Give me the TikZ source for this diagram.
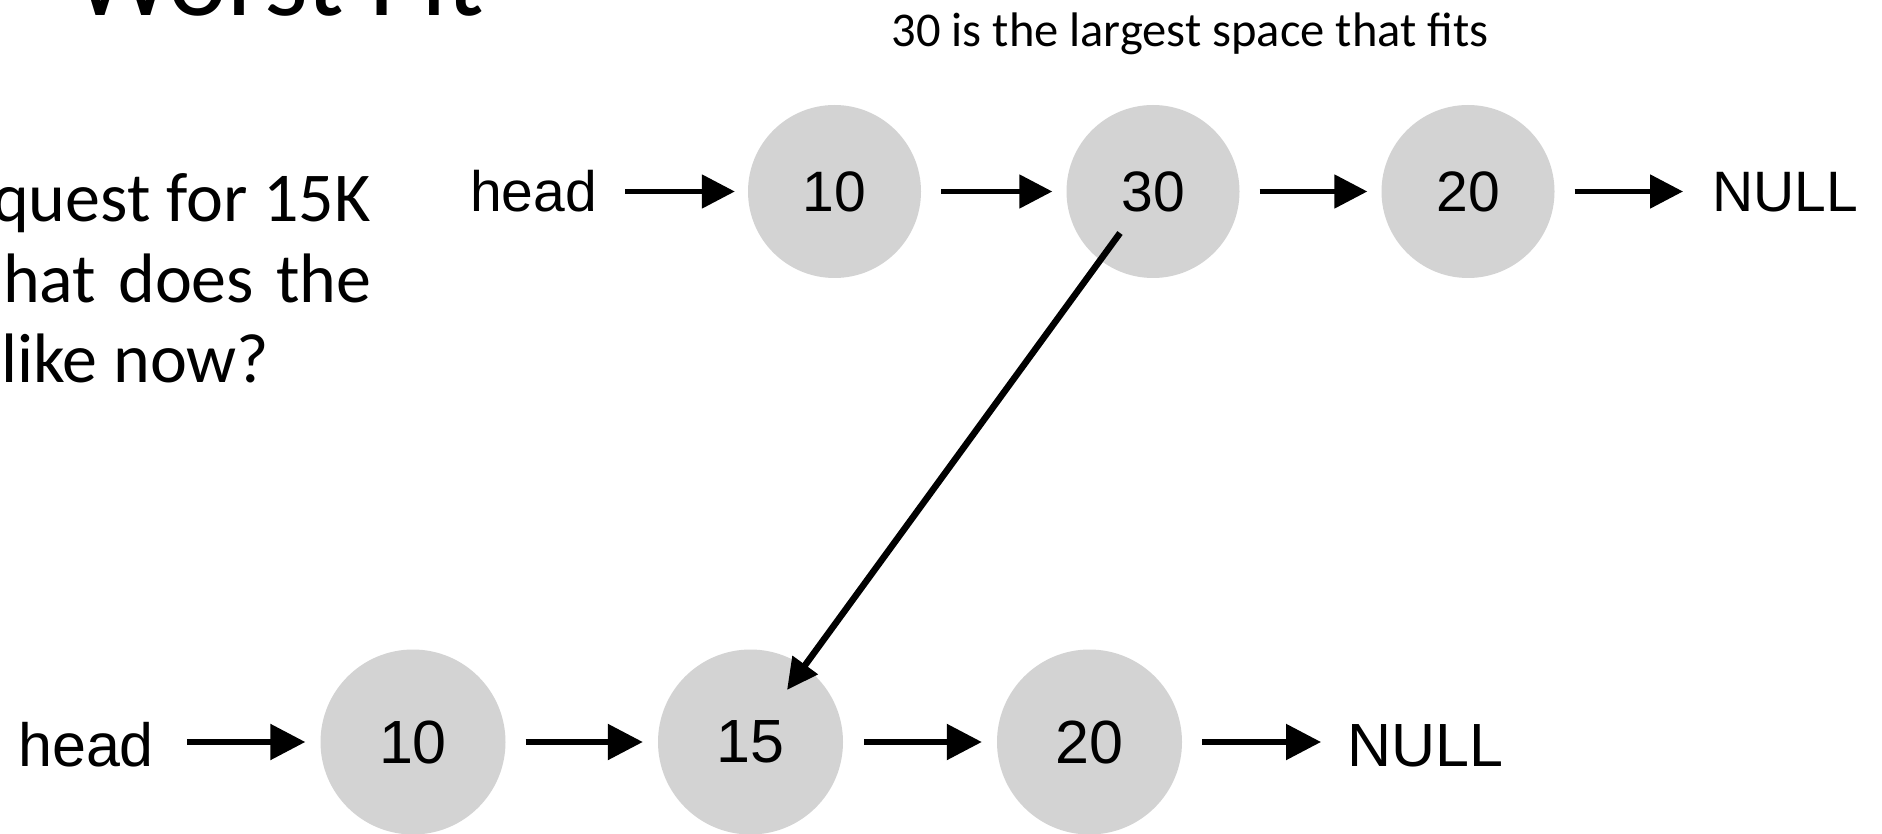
\documentclass[tikz,border=0pt]{standalone}
\usepackage{fontspec}
\setmainfont{Carlito}
\newfontfamily\diagfont{Liberation Sans}
\usetikzlibrary{arrows.meta,calc}
\definecolor{nodegray}{RGB}{211,211,211}
\newcommand\widewordspace{\spaceskip=22pt\relax}
\begin{document}
\begin{tikzpicture}[x=1pt,y=-1pt,
  cell/.style={circle,fill=nodegray,inner sep=0pt,text=black},
  topcell/.style={cell,minimum size=173pt,font=\diagfont\fontsize{57}{57}\selectfont},
  botcell/.style={cell,minimum size=185pt,font=\diagfont\fontsize{61}{61}\selectfont},
  toplabel/.style={inner sep=0pt,anchor=base west,font=\diagfont\fontsize{57}{57}\selectfont},
  botlabel/.style={inner sep=0pt,anchor=base west,font=\diagfont\fontsize{61}{61}\selectfont},
  toplink/.style={line width=5.2pt,-{Triangle[length=33pt,width=33pt]}},
  botlink/.style={line width=5.5pt,-{Triangle[length=35pt,width=35pt]}},
  splitlink/.style={line width=6.5pt,-{Triangle[length=31pt,width=30pt]}},
  slidetext/.style={inner sep=0pt,anchor=base west,font=\fontsize{70}{80}\selectfont},
]
\useasboundingbox (0,0) rectangle (1882,834);
\clip (0,0) rectangle (1882,834);

% slide title and body text
\node[inner sep=0pt,anchor=base west,font=\fontsize{112}{112}\selectfont] (title) at (73,16) {Worst Fit};
\node[slidetext] (line1) at (-8,222) {quest for 15K};
\node[slidetext] (line2) at (3,302) {\widewordspace hat does the};
\node[slidetext] (line3) at (1,382) {like now?};

% caption above the list
\node[inner sep=0pt,anchor=base,font=\fontsize{48.5}{48.5}\selectfont] (caption) at (1190,47) {30 is the largest space that fits};

% list before the allocation
\node[toplabel] (thead) at (470,212) {head};
\node[topcell] (t1) at (834.5,191.5) {10};
\node[topcell] (t2) at (1153,191.5) {30};
\node[topcell] (t3) at (1468,191.5) {20};
\node[toplabel] (tnull) at (1712,212) {NULL};

\draw[toplink,shorten <=28pt,shorten >=13pt] (thead.east |- t1.west) -- (t1.west);
\draw[toplink,shorten <=20pt,shorten >=14pt] (t1.east) -- (t2.west);
\draw[toplink,shorten <=20pt,shorten >=14pt] (t2.east) -- (t3.west);
\draw[toplink,shorten <=20pt,shorten >=29pt] (t3.east) -- (tnull.west |- t3.east);

% list after the allocation
\node[botlabel] (bhead) at (18,766) {head};
\node[botcell] (b1) at (413,742) {10};
\node[botcell] (b2) at (750.5,742) {15};
\node[botcell] (b3) at (1089.5,742) {20};
\node[botlabel] (bnull) at (1347,766) {NULL};

\draw[botlink,shorten <=33pt,shorten >=15pt] (bhead.east |- b1.west) -- (b1.west);
\draw[botlink,shorten <=20pt,shorten >=15pt] (b1.east) -- (b2.west);
\draw[botlink,shorten <=21pt,shorten >=15pt] (b2.east) -- (b3.west);
\draw[botlink,shorten <=20pt,shorten >=26pt] (b3.east) -- (bnull.west |- b3.east);

% the chosen block becomes the 15K entry
\draw[splitlink] ($(t2.center)+(-33,41.5)$) -- ($(b2.center)+(36.5,-52)$);
\end{tikzpicture}
\end{document}
